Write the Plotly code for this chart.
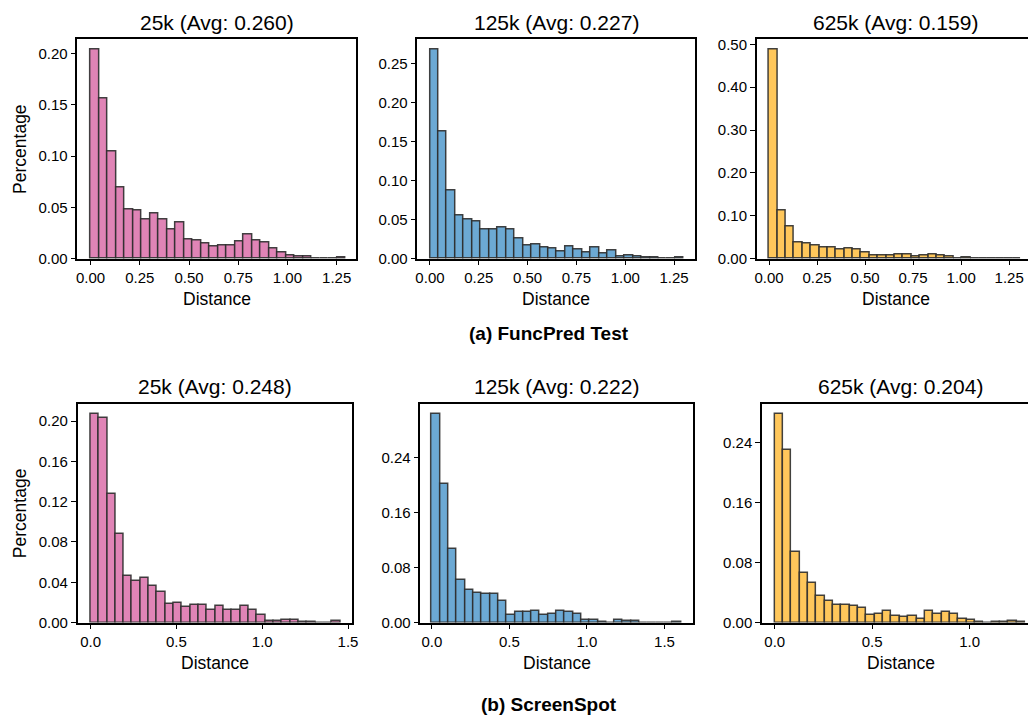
import numpy as np
import plotly.graph_objects as go

# ---------------- data ----------------
titles = ["25k (Avg: 0.260)", "125k (Avg: 0.227)", "625k (Avg: 0.159)",
          "25k (Avg: 0.248)", "125k (Avg: 0.222)", "625k (Avg: 0.204)"]
captions = ["(a) FuncPred Test", "(b) ScreenSpot"]

# histogram upper bin edge (bins start at 0, 30 bins each)
bin_max = [1.295, 1.30, 1.31, 1.455, 1.607, 1.285]

funcpred_25k = [0.2035, 0.1565, 0.105, 0.0694, 0.048, 0.0467, 0.0384, 0.0438, 0.0384, 0.0285,
                0.0358, 0.0186, 0.0176, 0.0147, 0.0122, 0.0131, 0.0131, 0.017, 0.0234, 0.0176,
                0.016, 0.0102, 0.0058, 0.0035, 0.0026, 0.0019, 0.0006, 0.0003, 0.0, 0.0016]
funcpred_125k = [0.268, 0.163, 0.0873, 0.0552, 0.0506, 0.0485, 0.0371, 0.0375, 0.0405, 0.0371,
                 0.0257, 0.0173, 0.0181, 0.0139, 0.0126, 0.0097, 0.016, 0.0118, 0.008, 0.0143,
                 0.0067, 0.011, 0.0034, 0.0042, 0.003, 0.002, 0.002, 0.0004, 0.0, 0.0017]
funcpred_625k = [0.487, 0.1125, 0.0765, 0.039, 0.035, 0.0306, 0.0275, 0.0275, 0.0207, 0.0245,
                 0.0222, 0.0138, 0.0084, 0.0084, 0.0069, 0.0092, 0.0107, 0.0054, 0.0084, 0.0092,
                 0.0077, 0.0046, 0.0008, 0.0023, 0.0008, 0.0, 0.0, 0.0, 0.0008, 0.0]
screenspot_25k = [0.2066, 0.2028, 0.1277, 0.0878, 0.0458, 0.0413, 0.0442, 0.0361, 0.0306, 0.0189,
                  0.0198, 0.0153, 0.0176, 0.0172, 0.0124, 0.0169, 0.0127, 0.0127, 0.0169, 0.0124,
                  0.0078, 0.0013, 0.0013, 0.0023, 0.0023, 0.001, 0.001, 0.0, 0.0, 0.0013]
screenspot_125k = [0.3035, 0.202, 0.1066, 0.0626, 0.0473, 0.043, 0.0416, 0.0416, 0.032, 0.011,
                   0.0153, 0.0148, 0.0172, 0.011, 0.0124, 0.0172, 0.0158, 0.0129, 0.0038, 0.0038,
                   0.0014, 0.0, 0.0033, 0.0024, 0.0024, 0.0, 0.0, 0.0, 0.0, 0.0014]
screenspot_625k = [0.2775, 0.2299, 0.0944, 0.0664, 0.0529, 0.0354, 0.0293, 0.024, 0.0236, 0.0227,
                   0.0201, 0.0105, 0.0118, 0.0153, 0.0092, 0.0074, 0.0092, 0.0052, 0.0153, 0.0109,
                   0.0135, 0.0109, 0.0052, 0.0039, 0.0013, 0.0, 0.0013, 0.0013, 0.0022, 0.0013]

series = [funcpred_25k, funcpred_125k, funcpred_625k,
          screenspot_25k, screenspot_125k, screenspot_625k]

x_ticks_top = [0.0, 0.25, 0.5, 0.75, 1.0, 1.25]
x_ticklabels_top = ["0.00", "0.25", "0.50", "0.75", "1.00", "1.25"]
x_ticks_bottom = [0.0, 0.5, 1.0, 1.5]
x_ticklabels_bottom = ["0.0", "0.5", "1.0", "1.5"]
y_ticks = [[0, 0.05, 0.10, 0.15, 0.20],
           [0, 0.05, 0.10, 0.15, 0.20, 0.25],
           [0, 0.10, 0.20, 0.30, 0.40, 0.50],
           [0, 0.04, 0.08, 0.12, 0.16, 0.20],
           [0, 0.08, 0.16, 0.24],
           [0, 0.08, 0.16, 0.24]]

# ---------------- styling / layout ----------------
W, H = 1034, 724
colors = ["#E084B6", "#6CA9D4", "#FFC75B"] * 2
edge = "rgba(45,45,45,0.9)"
FONT = "Liberation Sans, Arial, sans-serif"

# panel pixel boxes (left, right, top, bottom)
boxes = [(76, 356.7, 36, 259), (418.7, 698, 36, 259), (760.7, 1034, 36, 259),
         (76.3, 352.7, 406.7, 629), (421.7, 696.7, 406.7, 629), (766, 1034, 406.7, 629)]
xranges = [[-0.067, 1.348], [-0.064, 1.355], [-0.0635, 1.348],
           [-0.075, 1.523], [-0.074, 1.686], [-0.065, 1.300]]

fig = go.Figure()
layout = dict(width=W, height=H, margin=dict(l=0, r=0, t=0, b=0),
              plot_bgcolor="white", paper_bgcolor="white", showlegend=False,
              bargap=0, font=dict(family=FONT, color="black"))
annotations = []

for i, vals in enumerate(series):
    n = len(vals)
    edges = np.linspace(0, bin_max[i], n + 1)
    centers = (edges[:-1] + edges[1:]) / 2
    width = edges[1] - edges[0]
    ax = "" if i == 0 else str(i + 1)
    fig.add_trace(go.Bar(x=centers, y=vals, width=width,
                         marker=dict(color=colors[i], line=dict(color=edge, width=1.5)),
                         xaxis="x" + ax, yaxis="y" + ax, hoverinfo="x+y"))
    l, r, t, b = boxes[i]
    top = i < 3
    last_col = i % 3 == 2
    xt = x_ticks_top if top else x_ticks_bottom
    xtl = x_ticklabels_top if top else x_ticklabels_bottom
    if i == 5:
        xt, xtl = xt[:3], xtl[:3]
    ymax = max(vals) * 1.05
    ytl = ["%.2f" % v for v in y_ticks[i]]
    layout["xaxis" + ax] = dict(domain=[l / W, r / W], anchor="y" + ax, range=xranges[i],
                                showline=True, linecolor="black", linewidth=1.5,
                                mirror=True, ticks="outside", ticklen=5, tickwidth=1.3,
                                tickcolor="black", tickvals=xt, ticktext=xtl,
                                showgrid=False, zeroline=False,
                                tickfont=dict(size=15, family=FONT))
    layout["yaxis" + ax] = dict(domain=[1 - b / H, 1 - t / H], anchor="x" + ax,
                                range=[0, ymax], showline=True, linecolor="black",
                                linewidth=1.5, mirror=(not last_col), ticks="outside",
                                ticklen=5, tickwidth=1.3, tickcolor="black",
                                tickvals=y_ticks[i], ticktext=ytl, showgrid=False,
                                zeroline=False, tickfont=dict(size=15, family=FONT))
    cx = (l + (r if not last_col else l + 280)) / 2 / W
    title_y = 19 if top else 389
    annotations.append(dict(text=titles[i], x=cx, y=1 - title_y / H, xref="paper",
                            yref="paper", showarrow=False, xanchor="center",
                            yanchor="middle", font=dict(size=21, family=FONT)))
    label_y = 300 if top else 670
    annotations.append(dict(text="Distance", x=cx, y=1 - label_y / H, xref="paper",
                            yref="paper", showarrow=False, xanchor="center",
                            yanchor="middle", font=dict(size=17.5, family=FONT)))
    if i % 3 == 0:
        annotations.append(dict(text="Percentage", x=18 / W, y=1 - (t + b) / 2 / H,
                                xref="paper", yref="paper", showarrow=False,
                                textangle=-90, xanchor="center", yanchor="middle",
                                font=dict(size=17.5, family=FONT)))

for cap, cy in zip(captions, [335, 712]):
    annotations.append(dict(text="<b>%s</b>" % cap, x=551 / W, y=1 - cy / H, xref="paper",
                            yref="paper", showarrow=False, xanchor="center",
                            yanchor="middle", font=dict(size=19, family=FONT)))

layout["annotations"] = annotations
fig.update_layout(**layout)
fig.write_html("out.html", config={"displayModeBar": False},
               post_script="document.body.style.margin='0';"
                           "document.body.style.overflow='hidden';")
